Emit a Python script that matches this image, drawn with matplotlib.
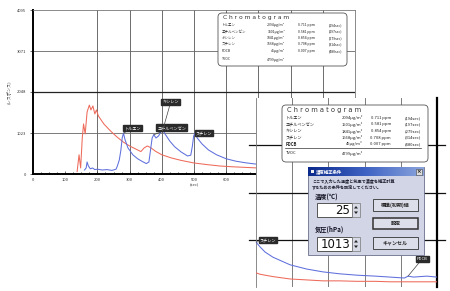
import matplotlib
matplotlib.use('Agg')
import matplotlib.pyplot as plt
from matplotlib.patches import FancyBboxPatch, Rectangle, Polygon
import numpy as np

plt.rcParams['font.family'] = ['Noto Sans CJK JP', 'DejaVu Sans']

W, H = 450, 291

# --- main chromatogram (detector counts vs retention time, sec) ---
red_t = [137, 143, 148, 153, 157, 162, 168, 175, 180, 186, 192, 197, 203, 220, 240,
         260, 280, 300, 320, 335, 345, 355, 365, 380, 400, 430, 460, 500, 540, 580,
         620, 660, 700]
red_v = [60, 480, 150, 900, 1250, 1000, 1550, 1720, 1600, 1700, 1500, 1600, 1450, 1250, 1080,
         930, 800, 700, 620, 560, 650, 700, 660, 570, 480, 400, 340, 275, 235, 200,
         180, 165, 150]
blue_t = [160, 165, 168, 172, 178, 185, 192, 200, 215, 230, 245, 258, 262, 268, 273,
          277, 281, 286, 295, 310, 325, 340, 352, 360, 365, 370, 375, 382, 390, 397,
          403, 410, 425, 440, 460, 480, 490, 495, 499, 503, 510, 525, 545, 570, 600,
          630, 660, 700]
blue_v = [100, 150, 300, 200, 130, 150, 110, 120, 100, 110, 90, 120, 200, 350, 600,
          900, 1020, 850, 650, 480, 380, 310, 260, 300, 600, 900, 980, 900, 950, 1050,
          1100, 1000, 820, 680, 550, 450, 470, 700, 950, 1020, 900, 750, 600, 480, 380,
          320, 280, 240]

# only 0-600 are visible, the rest sit under the second window
x_ticks = [0, 100, 200, 300, 400, 500, 600]
x_grid = [200, 300, 400, 500, 600, 700, 800, 900]
y_ticks = [0, 1023, 2048, 3071, 4095]

peak_names = ['トルエン', 'エチルベンゼン', 'キシレン', 'スチレン']
peak_t = [281, 375, 403, 503]
peak_v = [1020, 980, 1100, 1020]

# --- enlarged tail shown in the second window ---
zoom_x = [0.0, 0.11, 0.25, 0.47, 0.94, 1.4, 1.85, 2.3, 2.79, 3.3, 3.7, 4.1, 4.2, 4.35, 4.72, 5.0]
zoom_blue = [0.95, 0.85, 0.74, 0.63, 0.47, 0.38, 0.32, 0.28, 0.25, 0.23, 0.21, 0.19, 0.23, 0.21, 0.23, 0.21]
zoom_red = [0.30, 0.27, 0.25, 0.22, 0.17, 0.15, 0.13, 0.13, 0.12, 0.12, 0.11, 0.11, 0.11, 0.11, 0.11, 0.11]
zoom_peak_names = ['スチレン', 'PDCB']
zoom_peak_x = [0.0, 4.2]
zoom_peak_y = [0.95, 0.23]

# --- result table ---
compounds = ['トルエン', 'エチルベンゼン', 'キシレン', 'スチレン', 'PDCB']
conc = [2094, 1501, 1841, 1668, 45]
ppm = [0.711, 0.581, 0.854, 0.708, 0.007]
ret_sec = [194, 197, 279, 314, 480]
tvoc = 4799

# --- correction dialog ---
temp_c = 25
press_hpa = 1013

RED = '#ee6a5a'
BLUE = '#5f6fdc'


def px_axes(l, t, r, b):
    return [l / W, 1 - b / H, (r - l) / W, (b - t) / H]


fig = plt.figure(figsize=(W / 100, H / 100), dpi=100)

# main chart
ax = fig.add_axes(px_axes(33, 10, 355, 174))
ax.set_xlim(0, 1000)
ax.set_ylim(0, 4095)
for g in x_grid:
    ax.axvline(g, color='#555', lw=0.6, zorder=1)
for g in y_ticks[1:-1]:
    ax.axhline(g, color='#222' if g == 2048 else '#666',
               lw=0.9 if g == 2048 else 0.6, zorder=1)
ax.plot(red_t, red_v, color=RED, lw=0.75, zorder=3)
ax.plot(blue_t, blue_v, color=BLUE, lw=0.75, zorder=3)
offsets = [(9, 5), (18, 7), (8, 28), (9, 0)]
for name, t, v, off in zip(peak_names, peak_t, peak_v, offsets):
    ax.annotate(name, (t, v), xytext=off, textcoords='offset pixels',
                fontsize=3, color='white', ha='center', va='center', zorder=5,
                bbox=dict(boxstyle='square,pad=0.25', fc='#2a2a2a', ec='#2a2a2a'),
                arrowprops=dict(arrowstyle='-', color='#444', lw=0.5,
                                shrinkA=0, shrinkB=0))
ax.set_xticks(x_ticks)
ax.set_yticks(y_ticks)
ax.set_xticks(np.arange(0, 1001, 25), minor=True)
ax.tick_params(axis='both', labelsize=3, colors='#333', length=2, width=0.5, pad=3)
ax.tick_params(axis='x', which='minor', direction='in', length=1.5, width=0.5)
ax.tick_params(axis='x', which='major', direction='in', length=2.5)
for s in ['left', 'bottom']:
    ax.spines[s].set_color('black')
    ax.spines[s].set_linewidth(1.4)
for s in ['top', 'right']:
    ax.spines[s].set_color('#777')
    ax.spines[s].set_linewidth(0.6)
ax.set_xlabel('(sec)', fontsize=3, color='#444', labelpad=1)
ax.set_ylabel('(レスポンス)', fontsize=3, color='#444', labelpad=4)

# second (enlarged) window
ax2 = fig.add_axes(px_axes(256, 98, 437, 287))
ax2.set_xlim(0, 5)
ax2.set_ylim(0, 4)
ax2.set_facecolor('white')
for g in [1, 2, 3, 4]:
    ax2.axvline(g, color='#666', lw=0.6, zorder=1)
for g in [1, 2, 3]:
    ax2.plot([-0.18, 5.22], [g, g], color='#111', lw=0.9, clip_on=False, zorder=1)
ax2.plot(zoom_x, zoom_red, color=RED, lw=0.75, zorder=3)
ax2.plot(zoom_x, zoom_blue, color=BLUE, lw=0.75, zorder=3)
zoffsets = [(12, 2), (14, 17)]
for name, x, y, off in zip(zoom_peak_names, zoom_peak_x, zoom_peak_y, zoffsets):
    ax2.annotate(name, (x, y), xytext=off, textcoords='offset pixels',
                 fontsize=3, color='white', ha='center', va='center', zorder=5,
                 bbox=dict(boxstyle='square,pad=0.25', fc='#2a2a2a', ec='#2a2a2a'),
                 arrowprops=dict(arrowstyle='-', color='#444', lw=0.5,
                                 shrinkA=0, shrinkB=0))
ax2.set_xticks([])
ax2.set_yticks([])
ax2.spines['left'].set_color('#777')
ax2.spines['left'].set_linewidth(0.6)
ax2.spines['right'].set_color('black')
ax2.spines['right'].set_linewidth(1.6)
ax2.spines['top'].set_visible(False)
ax2.spines['bottom'].set_visible(False)

# overlay in pixel coordinates for the boxes and the dialog
ov = fig.add_axes([0, 0, 1, 1])
ov.set_xlim(0, W)
ov.set_ylim(H, 0)
ov.axis('off')


def chrom_box(x0, y0, w, h, title_fs, fs, title_dy, rows_y, cols, line_y=None, bold_last=False):
    ov.add_patch(FancyBboxPatch((x0, y0), w, h, boxstyle='round,pad=0,rounding_size=4',
                                fc='white', ec='#555', lw=0.6))
    ov.text(x0 + 5, y0 + title_dy, 'C h r o m a t o g r a m', fontsize=title_fs,
            family='DejaVu Sans', color='#333', va='center')
    for i, name in enumerate(compounds):
        y = rows_y[i]
        wt = 'bold' if (bold_last and name == 'PDCB') else 'normal'
        ov.text(x0 + 4, y, name, fontsize=fs, va='center', color='#222', weight=wt)
        ov.text(cols[0], y, f'{conc[i]}μg/m³', fontsize=fs, va='center', ha='right', color='#222')
        ov.text(cols[1], y, f'{ppm[i]:.3f} ppm', fontsize=fs, va='center', ha='right', color='#222')
        ov.text(cols[2], y, f'({ret_sec[i]}sec)', fontsize=fs, va='center', ha='right', color='#222')
    if line_y is not None:
        ov.plot([x0 + 3, cols[2]], [line_y, line_y], color='#333', lw=0.5)
    ov.text(x0 + 4, rows_y[-1], 'TVOC', fontsize=fs, va='center', color='#222')
    ov.text(cols[0], rows_y[-1], f'{tvoc}μg/m³', fontsize=fs, va='center', ha='right', color='#222')


chrom_box(218, 13, 129, 53, 4.3, 2.5, 4, [25, 31.5, 38, 44.5, 51, 59.5], [285, 315, 342])
chrom_box(282, 105, 146, 57, 4.8, 3.0, 5, [118, 124.5, 131, 137.5, 144, 153.5],
          [363, 391, 421], line_y=147.5, bold_last=True)

# dialog window
ov.add_patch(Rectangle((308, 167), 116, 88, fc='#d2d5e5', ec='#6a6f8a', lw=0.6))
grad = np.linspace(0, 1, 100).reshape(1, -1)
ov.imshow(grad, extent=(308, 424, 176, 167), cmap=matplotlib.colors.LinearSegmentedColormap.from_list(
    'tb', ['#0b2a8c', '#3f63c4', '#8aa4dc']), aspect='auto', zorder=3)
ov.set_xlim(0, W)
ov.set_ylim(H, 0)
ov.add_patch(Rectangle((310.5, 170), 3, 3, fc='#f0f0f0', ec='none', zorder=4))
ov.text(316, 171.4, '濃度補正条件', fontsize=3.2, color='white', weight='bold', va='center', zorder=4)
ov.add_patch(Rectangle((416, 168.5), 6, 6, fc='#dcdcdc', ec='#444', lw=0.4, zorder=4))
ov.text(419, 171.6, '×', fontsize=4, ha='center', va='center', color='#111', zorder=5,
        family='DejaVu Sans', weight='bold')
ov.text(312, 180.5, 'ここで入力した温度と気圧で濃度を補正計算', fontsize=3.0, weight='bold',
        color='#223', va='center')
ov.text(312, 187, 'するための条件を設定してください。', fontsize=3.0, weight='bold',
        color='#223', va='center')

for label, val, ylab, ybox in [('温度(℃)', temp_c, 197, 203), ('気圧(hPa)', press_hpa, 229.5, 237)]:
    ov.text(315, ylab, label, fontsize=4.5, weight='bold', color='#112', va='center')
    ov.add_patch(Rectangle((317, ybox), 35, 14, fc='white', ec='#555', lw=0.7))
    ov.text(350, ybox + 7.5, str(val), fontsize=8.5, family='DejaVu Sans', ha='right',
            va='center', color='#111')
    ov.add_patch(Rectangle((352, ybox), 8, 14, fc='#d8dae6', ec='#777', lw=0.5))
    ov.add_patch(Polygon([[354, ybox + 5.5], [358, ybox + 5.5], [356, ybox + 3]], fc='#222', ec='none'))
    ov.add_patch(Polygon([[354, ybox + 8.5], [358, ybox + 8.5], [356, ybox + 11]], fc='#222', ec='none'))

for label, yb, lw in [('標準(初期)値', 199, 0.6), ('設定', 217.5, 1.1), ('キャンセル', 237, 0.6)]:
    ov.add_patch(Rectangle((373, yb), 45, 11.5, fc='#dcdee9', ec='#333', lw=lw))
    ov.text(395.5, yb + 5.9, label, fontsize=3.6, weight='bold', ha='center', va='center',
            color='#222')

fig.savefig('out.png', dpi=100)
